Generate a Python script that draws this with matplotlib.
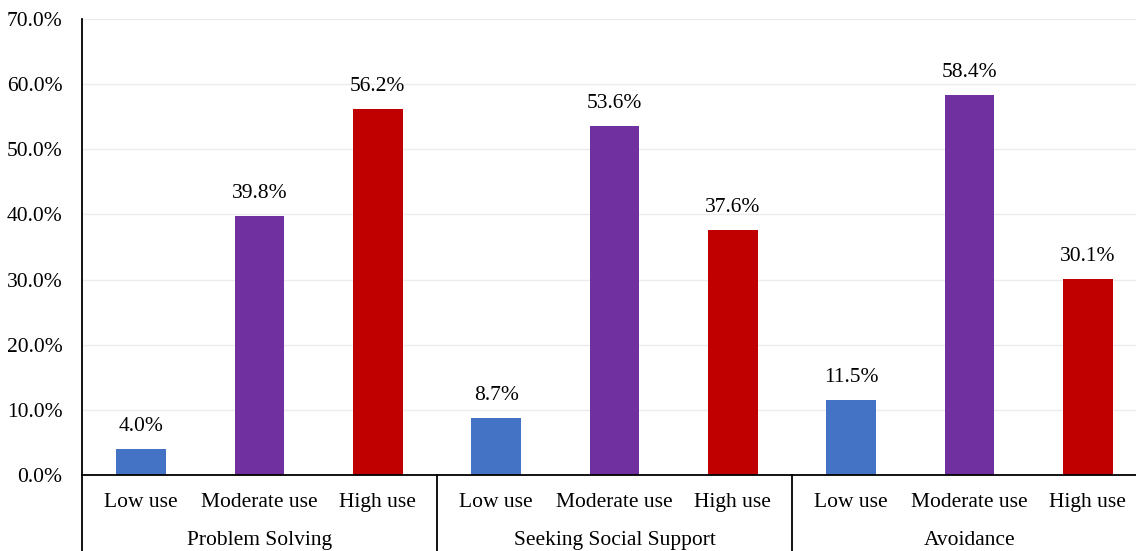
import matplotlib.pyplot as plt
import matplotlib.transforms as mtransforms

plt.rcParams['font.family'] = ['Liberation Serif', 'DejaVu Serif']

strategies = ['Problem Solving', 'Seeking Social Support', 'Avoidance']
levels = ['Low use', 'Moderate use', 'High use']
colors = ['#4472C4', '#7030A0', '#C00000']

problem_solving = [4.0, 39.8, 56.2]
social_support = [8.7, 53.6, 37.6]
avoidance = [11.5, 58.4, 30.1]
y_ticks = [0, 10, 20, 30, 40, 50, 60, 70]

FS = 15.5


def main():
    fig = plt.figure(figsize=(11.36, 5.51), dpi=100)
    # the last group runs slightly past the right edge of the figure
    ax = fig.add_axes([0.0722, 0.1379, 0.9375, 0.8276])

    groups = [problem_solving, social_support, avoidance]
    x = 0
    tick_pos = []
    tick_lab = []
    for g, values in enumerate(groups):
        for i, v in enumerate(values):
            ax.bar(x, v, width=0.42, color=colors[i], zorder=2)
            ax.text(x, v + 2.0, '%.1f%%' % v, ha='center', va='bottom',
                    fontsize=FS)
            tick_pos.append(x)
            tick_lab.append(levels[i])
            x += 1

    ax.set_xlim(-0.5, 8.5)
    ax.set_ylim(0, 70)
    ax.set_yticks(y_ticks)
    ax.set_yticklabels(['%.1f%%' % t for t in y_ticks], fontsize=FS)
    ax.yaxis.grid(True, color='#ececec', linewidth=1, zorder=0)
    ax.set_axisbelow(True)
    ax.tick_params(axis='y', length=0, pad=14)

    ax.set_xticks(tick_pos)
    ax.set_xticklabels(tick_lab, fontsize=FS)
    ax.tick_params(axis='x', length=0, pad=13)

    for side in ['top', 'right']:
        ax.spines[side].set_visible(False)
    for side in ['left', 'bottom']:
        ax.spines[side].set_color('black')
        ax.spines[side].set_linewidth(1.3)

    # group separators and group names below the axis
    trans = mtransforms.blended_transform_factory(ax.transData, ax.transAxes)
    for b in [-0.5, 2.5, 5.5]:
        ax.plot([b, b], [0, -0.2], color='black', linewidth=1.3,
                transform=trans, clip_on=False)
    for g, name in enumerate(strategies):
        ax.text(3 * g + 1, -0.143, name, ha='center', va='center',
                fontsize=FS, transform=trans)

    fig.savefig('out.png', dpi=100)


if __name__ == '__main__':
    main()
